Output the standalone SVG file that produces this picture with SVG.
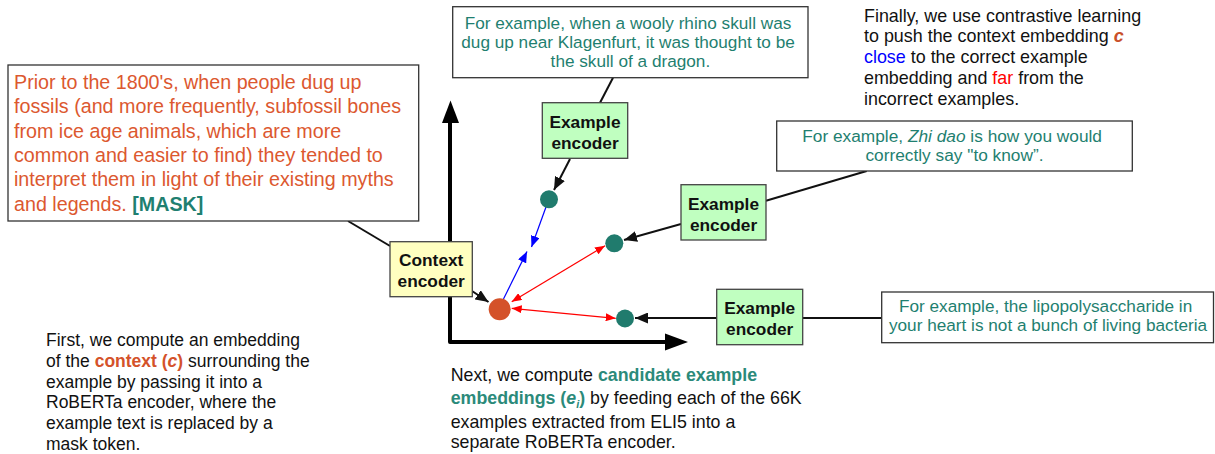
<svg xmlns="http://www.w3.org/2000/svg" width="1215" height="454" viewBox="0 0 1215 454">
<style>
text{font-family:"Liberation Sans",Arial,Helvetica,sans-serif;}
.box{fill:#ffffff;stroke:#333333;stroke-width:1.3;}
.enc{fill:#c0ffc0;stroke:#444444;stroke-width:1.3;}
.ctx{fill:#ffffc0;stroke:#444444;stroke-width:1.3;}
.enct{font-size:17.3px;font-weight:bold;fill:#111111;text-anchor:middle;}
.teal{fill:#1f7f70;}
.org{fill:#dc582f;}
.ln{stroke:#111111;stroke-width:2;fill:none;}
.arr{stroke:#111111;stroke-width:2;fill:none;marker-end:url(#ah);}
.red{stroke:#ff0000;stroke-width:1.2;fill:none;marker-start:url(#rh);marker-end:url(#rh);}
.blue{stroke:#0000ff;stroke-width:1.2;fill:none;marker-end:url(#bh);}
.axis{stroke:#000000;stroke-width:4;fill:none;stroke-linejoin:round;}
</style>
<defs>
<marker id="ah" markerUnits="userSpaceOnUse" markerWidth="13" markerHeight="11" refX="13" refY="5.5" orient="auto"><path d="M0,0 L13,5.5 L0,11 z" fill="#111111"/></marker>
<marker id="rh" markerUnits="userSpaceOnUse" markerWidth="10" markerHeight="8" refX="10" refY="4" orient="auto-start-reverse"><path d="M0,0 L10,4 L0,8 z" fill="#ff0000"/></marker>
<marker id="bh" markerUnits="userSpaceOnUse" markerWidth="11" markerHeight="9" refX="11" refY="4.5" orient="auto"><path d="M0,0 L11,4.5 L0,9 z" fill="#0000ff"/></marker>
</defs>

<g id="axes">
<path class="axis" d="M450,122 L450,342 L667,342"/>
<polygon points="450.5,100.5 442,123 459,123" fill="#000"/>
<polygon points="688,342 665,333.5 665,350.5" fill="#000"/>
</g>

<g id="connectors">
<line class="ln" x1="348" y1="221" x2="390" y2="246"/>
<line class="ln" x1="613" y1="77.7" x2="600" y2="102.7"/>
<line class="ln" x1="766" y1="200.7" x2="866.7" y2="171"/>
<line class="ln" x1="802.7" y1="318" x2="881.7" y2="318"/>
<line class="arr" x1="570" y1="159" x2="554" y2="190"/>
<line class="arr" x1="681" y1="224" x2="624" y2="240"/>
<line class="arr" x1="717" y1="318" x2="635" y2="318"/>
<line class="arr" x1="472" y1="291" x2="488.5" y2="302"/>
<line class="blue" x1="546" y1="207" x2="531.5" y2="247"/>
<line class="blue" x1="503.5" y1="299" x2="527" y2="251.5"/>
<line class="red" x1="511.7" y1="301.7" x2="605" y2="245.7"/>
<line class="red" x1="511.7" y1="308.3" x2="615.7" y2="318.3"/>
</g>

<g id="context-text">
<rect class="box" x="8" y="65" width="410.7" height="156"/>
<text class="org" font-size="19.7" x="14">
<tspan x="14" y="89">Prior to the 1800's, when people dug up</tspan>
<tspan x="14" y="113.3">fossils (and more frequently, subfossil bones</tspan>
<tspan x="14" y="137.6">from ice age animals, which are more</tspan>
<tspan x="14" y="161.9">common and easier to find) they tended to</tspan>
<tspan x="14" y="186.2">interpret them in light of their existing myths</tspan>
<tspan x="14" y="210.5">and legends. <tspan font-weight="bold" class="teal">[MASK]</tspan></tspan>
</text>
</g>

<g id="example-wooly">
<rect class="box" x="452.7" y="6.7" width="355.3" height="71"/>
<text class="teal" font-size="17.2" text-anchor="middle">
<tspan x="630.4" y="29">For example, when a wooly rhino skull was</tspan>
<tspan x="630.4" y="48.3">dug up near Klagenfurt, it was thought to be</tspan>
<tspan x="630.4" y="67.3">the skull of a dragon.</tspan>
</text>
</g>

<g id="example-zhidao">
<rect class="box" x="776.7" y="121" width="355.6" height="50"/>
<text class="teal" font-size="17.3" text-anchor="middle">
<tspan x="954.5" y="142.3">For example, <tspan font-style="italic">Zhi dao</tspan> is how you would</tspan>
<tspan x="954.5" y="161.3">correctly say "to know”.</tspan>
</text>
</g>

<g id="example-lipo">
<rect class="box" x="881.7" y="292" width="331.8" height="50.7"/>
<text class="teal" font-size="17.2" text-anchor="middle">
<tspan x="1048" y="312">For example, the lipopolysaccharide in</tspan>
<tspan x="1048" y="330.5">your heart is not a bunch of living bacteria</tspan>
</text>
</g>

<g id="encoder-1">
<rect class="enc" x="542.3" y="102.7" width="85.4" height="55.6"/>
<text class="enct"><tspan x="585" y="127.7">Example</tspan><tspan x="585" y="148.7">encoder</tspan></text>
</g>

<g id="encoder-2">
<rect class="enc" x="681" y="184.7" width="85" height="55.3"/>
<text class="enct"><tspan x="723.5" y="209.7">Example</tspan><tspan x="723.5" y="230.7">encoder</tspan></text>
</g>

<g id="encoder-3">
<rect class="enc" x="716.7" y="289.3" width="86" height="55.4"/>
<text class="enct"><tspan x="759.7" y="314.3">Example</tspan><tspan x="759.7" y="335.3">encoder</tspan></text>
</g>

<g id="context-encoder">
<rect class="ctx" x="390" y="241.7" width="82.3" height="55"/>
<text class="enct"><tspan x="431.2" y="265.8">Context</tspan><tspan x="431.2" y="287">encoder</tspan></text>
</g>

<g id="dots">
<circle cx="549" cy="199.3" r="9" fill="#207b6d"/>
<circle cx="614.3" cy="243.3" r="9" fill="#207b6d"/>
<circle cx="625" cy="318.5" r="9" fill="#207b6d"/>
<circle cx="499.7" cy="309.3" r="11" fill="#d4522a"/>
</g>

<g id="note-final">
<text font-size="17.9" fill="#111111">
<tspan x="864" y="21.5">Finally, we use contrastive learning</tspan>
<tspan x="864" y="42.4">to push the context embedding <tspan font-weight="bold" font-style="italic" fill="#c9502a">c</tspan></tspan>
<tspan x="864" y="63.3"><tspan fill="#0000ff">close</tspan> to the correct example</tspan>
<tspan x="864" y="84.2">embedding and <tspan fill="#ff0000">far</tspan> from the</tspan>
<tspan x="864" y="105.1">incorrect examples.</tspan>
</text>
</g>

<g id="note-first">
<text font-size="17.5" fill="#111111">
<tspan x="46" y="346">First, we compute an embedding</tspan>
<tspan x="46" y="366.8">of the <tspan font-weight="bold" fill="#d4522a">context (<tspan font-style="italic">c</tspan>)</tspan> surrounding the</tspan>
<tspan x="46" y="387.6">example by passing it into a</tspan>
<tspan x="46" y="408.4">RoBERTa encoder, where the</tspan>
<tspan x="46" y="429.2">example text is replaced by a</tspan>
<tspan x="46" y="450">mask token.</tspan>
</text>
</g>

<g id="note-next">
<text font-size="17.8" fill="#111111">
<tspan x="450.7" y="381">Next, we compute <tspan font-weight="bold" fill="#2b8a7a">candidate example</tspan></tspan>
<tspan x="450.7" y="404"><tspan font-weight="bold" fill="#2b8a7a">embeddings (<tspan font-style="italic">e</tspan><tspan font-style="italic" font-size="11" dy="4">i</tspan><tspan dy="-4">)</tspan></tspan> by feeding each of the 66K</tspan>
<tspan x="450.7" y="427.5">examples extracted from ELI5 into a</tspan>
<tspan x="450.7" y="447.5">separate RoBERTa encoder.</tspan>
</text>
</g>
</svg>
